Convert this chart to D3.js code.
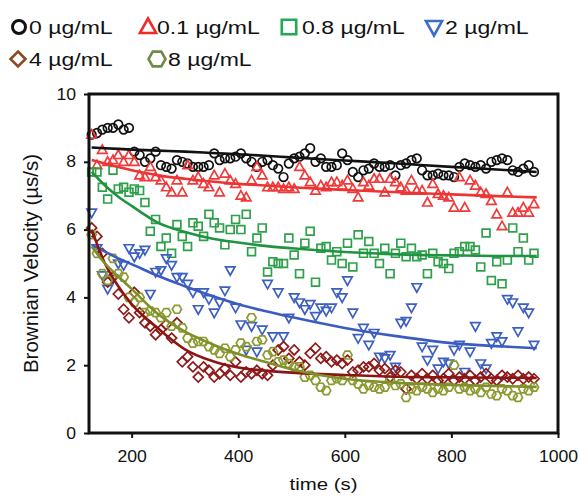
<!DOCTYPE html>
<html>
<head>
<meta charset="utf-8">
<script src="https://cdn.jsdelivr.net/npm/d3@7"></script>
<style>
  body { margin: 0; background: #fff; }
  text { font-family: "Liberation Sans", Arial, sans-serif; fill: #111; }
</style>
</head>
<body>
<script>
// measurement times (s)
var times = [125,135,145,155,165,175,185,195,205,215,
             225,235,245,255,265,275,285,295,305,315,
             325,335,345,355,365,375,385,395,405,415,
             425,435,445,455,465,475,485,495,505,515,
             525,535,545,555,565,575,585,595,605,615,
             625,635,645,655,665,675,685,695,705,715,
             725,735,745,755,765,775,785,795,805,815,
             825,835,845,855,865,875,885,895,905,915,
             925,935,945,955];

// Brownian velocity (µs/s), one list per concentration
var v0 = [8.8,8.85,8.95,9.0,9.0,9.1,8.95,9.0,8.3,8.2,
          8.0,8.1,8.3,7.9,7.85,7.8,8.05,8.0,7.95,7.85,
          7.85,7.85,7.9,8.25,8.05,8.1,8.1,8.15,8.25,8.1,
          8.0,7.85,8.0,8.05,7.9,7.8,7.55,7.95,8.1,8.15,
          8.25,8.4,8.0,8.1,7.85,7.85,7.9,8.25,8.05,7.7,
          7.55,7.75,7.8,7.95,7.85,7.85,7.9,7.6,7.9,7.95,
          8.05,8.1,7.75,7.6,7.6,7.65,7.6,7.6,7.55,7.85,
          7.95,7.9,7.85,7.9,7.8,8.0,8.05,8.1,8.05,7.75,
          7.7,7.8,7.9,7.7];
var v01 = [8.8,7.9,8.35,8.0,8.05,8.2,8.0,8.2,8.0,7.6,
           7.55,7.85,7.55,7.45,7.25,7.1,7.45,7.1,7.9,7.45,
           7.55,7.35,7.25,7.6,7.1,7.65,7.45,7.35,7.0,6.95,
           7.45,7.85,7.6,7.25,7.25,7.25,7.2,7.25,7.2,7.85,
           7.6,7.4,7.15,7.3,7.25,7.4,7.4,7.3,7.45,7.2,
           6.95,7.4,7.3,7.5,7.5,7.1,7.5,7.4,7.25,7.15,
           7.45,7.15,7.15,6.8,7.35,7.05,7.0,6.95,6.65,7.55,
           6.65,7.45,7.3,7.1,7.05,6.85,6.45,6.1,7.1,6.5,
           6.5,6.65,6.5,6.75];
var v08 = [7.7,7.7,7.25,6.9,7.75,7.2,7.25,7.1,7.2,7.15,
           6.8,5.95,6.3,5.5,5.75,5.3,6.15,5.8,5.5,6.2,
           6.1,5.8,6.45,6.2,6.05,5.55,6.0,6.3,6.0,6.45,
           5.35,5.75,6.05,4.75,5.05,5.0,5.0,5.75,5.25,4.7,
           5.6,5.95,4.45,5.45,5.5,5.1,5.35,5.0,5.6,4.9,
           5.85,5.3,5.65,5.3,5.0,5.45,4.7,5.3,5.6,5.2,
           5.45,5.2,5.25,4.7,5.3,5.05,5.0,4.85,5.3,5.35,
           5.5,5.5,5.4,4.9,5.9,4.5,5.05,4.4,5.1,6.05,
           5.35,5.75,5.1,5.3];
var v2 = [6.5,5.45,4.65,4.25,4.55,5.0,4.95,5.45,5.2,5.3,
          5.4,4.1,4.75,4.8,5.15,4.95,4.6,4.6,4.4,4.15,
          3.65,4.15,3.95,3.55,3.85,4.2,4.8,3.7,3.2,2.45,
          3.15,2.4,3.05,4.4,2.85,4.15,2.85,3.4,4.0,3.85,
          3.65,3.8,3.45,3.7,3.6,3.7,4.15,4.0,4.5,3.55,
          2.8,3.1,2.6,2.95,2.25,2.2,2.3,1.95,3.25,3.3,
          3.7,4.3,2.55,2.15,2.45,1.9,2.1,2.05,2.45,2.6,
          1.8,2.4,3.15,2.05,1.9,2.65,2.85,2.7,3.95,3.85,
          3.0,3.7,3.55,2.6];
var v4 = [6.05,5.8,5.3,4.45,4.6,4.1,3.65,3.4,4.15,3.55,
          3.25,3.15,2.9,3.05,3.2,2.8,3.25,2.1,2.25,1.95,
          1.65,1.95,1.85,1.65,1.75,1.9,1.7,2.1,1.65,1.8,
          1.75,1.85,1.75,1.7,2.0,2.45,2.55,2.2,2.45,2.1,
          2.0,2.35,2.5,2.2,2.25,2.1,2.15,2.05,2.15,1.8,
          1.85,1.95,1.95,2.05,1.85,1.9,1.65,1.85,1.8,1.3,
          1.7,1.6,1.75,1.6,1.7,1.55,1.6,1.75,1.55,1.65,
          1.6,1.7,1.55,1.65,1.75,1.6,1.55,1.7,1.65,1.6,
          1.7,1.6,1.65,1.6];
var v8 = [5.85,5.3,4.7,4.5,5.15,4.7,4.6,4.0,3.85,4.0,
          3.55,3.6,3.55,3.4,3.55,3.15,3.65,3.1,2.8,2.65,
          2.7,2.7,2.55,2.45,2.35,2.5,2.25,2.45,2.65,2.55,
          3.4,2.7,2.75,2.3,2.4,2.1,2.15,2.05,1.95,1.95,
          1.65,1.7,1.55,1.35,1.25,1.55,1.6,1.55,2.3,1.55,
          1.45,1.3,1.4,1.35,1.3,1.35,1.55,1.4,1.45,1.05,
          1.3,1.25,1.35,1.3,1.2,1.3,1.25,1.35,2.0,1.3,
          1.35,1.25,1.3,1.2,1.35,1.15,1.1,1.3,1.25,1.1,
          1.05,1.3,1.25,1.35];

// fitted curves, read at these times
var fitTimes = [125,150,175,200,250,300,350,400,450,500,600,700,800,900,960];
var fit0  = [8.42,8.4,8.38,8.36,8.33,8.3,8.26,8.22,8.18,8.13,8.04,7.95,7.85,7.76,7.7];
var fit01 = [8.05,7.95,7.85,7.75,7.6,7.5,7.42,7.35,7.3,7.25,7.17,7.1,7.04,6.98,6.95];
var fit08 = [7.7,7.3,6.97,6.7,6.2,5.93,5.74,5.62,5.52,5.45,5.34,5.27,5.24,5.22,5.22];
var fit2  = [5.55,5.35,5.15,4.98,4.63,4.33,4.05,3.8,3.6,3.42,3.1,2.85,2.65,2.55,2.5];
var fit4  = [6.0,5.0,4.33,3.8,3.08,2.47,2.13,1.93,1.84,1.78,1.71,1.66,1.64,1.63,1.62];
var fit8  = [5.5,5.0,4.62,4.25,3.5,2.99,2.63,2.33,2.1,1.88,1.6,1.48,1.42,1.38,1.36];

var labels = ["0 \u00b5g/mL", "0.1 \u00b5g/mL", "0.8 \u00b5g/mL", "2 \u00b5g/mL", "4 \u00b5g/mL", "8 \u00b5g/mL"];
var xTicks = [200, 400, 600, 800, 1000];
var yTicks = [0, 2, 4, 6, 8, 10];

var series = [
  {name: labels[0], values: v0,  fit: fit0,  shape: "circle",  color: "#111111", line: "#111111", legColor: "#111111"},
  {name: labels[1], values: v01, fit: fit01, shape: "up",      color: "#f03a3a", line: "#ee3333", legColor: "#ee2a2a"},
  {name: labels[2], values: v08, fit: fit08, shape: "square",  color: "#2ea04a", line: "#1f9440", legColor: "#22aa55"},
  {name: labels[3], values: v2,  fit: fit2,  shape: "down",    color: "#3c5fc0", line: "#3a5cc0", legColor: "#3a6ec8"},
  {name: labels[4], values: v4,  fit: fit4,  shape: "diamond", color: "#8e1b1b", line: "#8b1515", legColor: "#8b4a20"},
  {name: labels[5], values: v8,  fit: fit8,  shape: "hexagon", color: "#8c9a30", line: "#7f8f2a", legColor: "#6f8a4a"}
];

// marker outline centred on 0,0
function shapePath(type, r) {
  if (type === "circle") return d3.symbol(d3.symbolCircle, Math.PI * r * r)();
  var pts;
  if (type === "up") pts = [[0, -r], [r * 0.95, r * 0.7], [-r * 0.95, r * 0.7]];
  if (type === "down") pts = [[0, r], [r * 0.95, -r * 0.7], [-r * 0.95, -r * 0.7]];
  if (type === "square") pts = [[-r * 0.85, -r * 0.85], [r * 0.85, -r * 0.85], [r * 0.85, r * 0.85], [-r * 0.85, r * 0.85]];
  if (type === "diamond") pts = [[0, -r], [r, 0], [0, r], [-r, 0]];
  if (type === "hexagon") pts = d3.range(6).map(function(i) { return [r * Math.cos(i * Math.PI / 3), r * Math.sin(i * Math.PI / 3)]; });
  return "M" + pts.join("L") + "Z";
}

var markerR = {circle: 4.3, up: 5, square: 4.6, down: 5, diamond: 5, hexagon: 4.6};

var margin = {top: 94, right: 21, bottom: 71, left: 89},
    width = 579 - margin.left - margin.right,
    height = 504 - margin.top - margin.bottom;

var svgRoot = d3.select("body").append("svg")
    .attr("width", 579)
    .attr("height", 504);

var svg = svgRoot.append("g")
    .attr("transform", "translate(" + margin.left + "," + margin.top + ")");

var x = d3.scaleLinear().domain([120, 1000]).range([0, width]);
var y = d3.scaleLinear().domain([0, 10]).range([height, 0]);

var sx = 1.1; // labels in the picture are a bit wider than plain Arial

// x axis
var gx = svg.append("g")
    .attr("transform", "translate(0," + height + ")")
    .call(d3.axisBottom(x).tickValues(xTicks).tickFormat(d3.format("d")).tickSize(5).tickPadding(13));
gx.select(".domain").remove();
gx.selectAll("line").attr("stroke", "#111").attr("stroke-width", 2);
gx.selectAll("text").style("font-size", "16px").attr("transform", "scale(" + sx + ",1)");

// y axis
var gy = svg.append("g")
    .call(d3.axisLeft(y).tickValues(yTicks).tickSize(5).tickPadding(8));
gy.select(".domain").remove();
gy.selectAll("line").attr("stroke", "#111").attr("stroke-width", 2);
gy.selectAll("text").style("font-size", "16px")
    .attr("x", -13 / sx)
    .attr("transform", "scale(" + sx + ",1)");

// markers
series.forEach(function(s) {
  svg.append("g").selectAll("path")
    .data(s.values)
    .enter()
    .append("path")
    .attr("d", shapePath(s.shape, markerR[s.shape]))
    .attr("transform", function(d, i) { return "translate(" + x(times[i]) + "," + y(d) + ")"; })
    .attr("fill", "none")
    .attr("stroke", s.color)
    .attr("stroke-width", 1.7);
});

// fitted lines
series.forEach(function(s) {
  svg.append("path")
    .datum(s.fit)
    .attr("fill", "none")
    .attr("stroke", s.line)
    .attr("stroke-width", 2.6)
    .attr("d", d3.line()
      .curve(d3.curveMonotoneX)
      .x(function(d, i) { return x(fitTimes[i]); })
      .y(function(d) { return y(d); }));
});

// frame
svg.append("rect")
    .attr("x", 0).attr("y", 0)
    .attr("width", width).attr("height", height)
    .attr("fill", "none")
    .attr("stroke", "#111")
    .attr("stroke-width", 3);

// axis titles
svgRoot.append("text")
    .attr("transform", "translate(" + (margin.left + width / 2) + ",490) scale(1.2,1)")
    .attr("text-anchor", "middle")
    .style("font-size", "17px")
    .text("time (s)");

svgRoot.append("text")
    .attr("transform", "translate(38," + (margin.top + height / 2) + ") rotate(-90)")
    .attr("text-anchor", "middle")
    .style("font-size", "20.5px")
    .text("Brownian Velocity (\u00b5s/s)");

// legend
var legendPos = [[19, 27, 29], [148, 27, 157], [289, 27, 302], [434, 27, 445], [18, 59, 29], [157, 59, 168]];
var legendR = {circle: 6.5, up: 8.5, square: 8.5, down: 8.5, diamond: 7.5, hexagon: 8.5};
var legend = svgRoot.append("g").attr("class", "legend");
series.forEach(function(s, i) {
  var p = legendPos[i];
  legend.append("path")
    .attr("d", shapePath(s.shape, legendR[s.shape]))
    .attr("transform", "translate(" + p[0] + "," + p[1] + ")")
    .attr("fill", "none")
    .attr("stroke", s.legColor)
    .attr("stroke-width", s.shape === "circle" ? 3 : 2.6);
  legend.append("text")
    .attr("transform", "translate(" + p[2] + "," + (p[1] + 7) + ") scale(1.28,1)")
    .style("font-size", "18px")
    .text(s.name);
});
</script>
</body>
</html>
